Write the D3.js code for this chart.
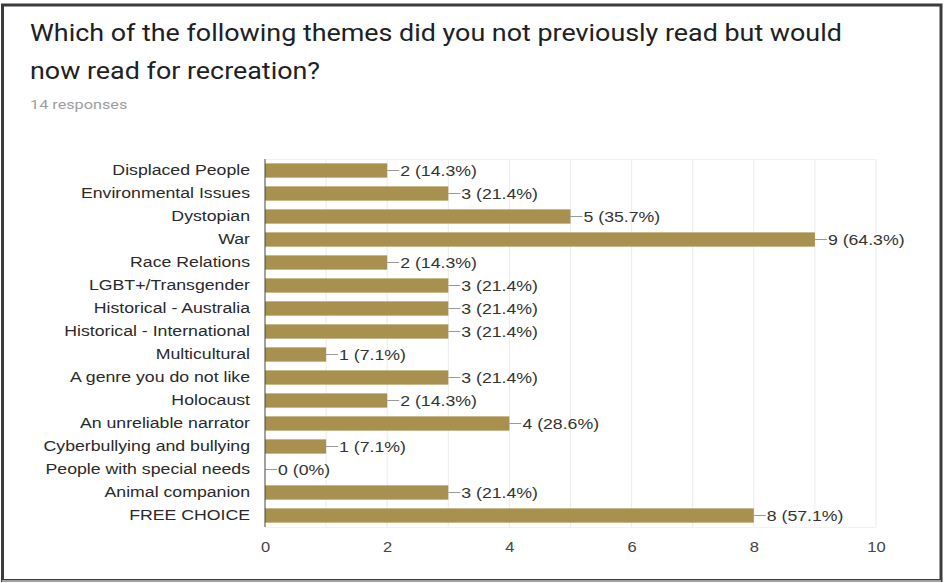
<!DOCTYPE html>
<html>
<head>
<meta charset="utf-8">
<script src="https://cdn.jsdelivr.net/npm/d3@7"></script>
<style>
  body { margin: 0; background: #fff; }
  svg { display: block; }
</style>
</head>
<body>
<svg id="chart" width="944" height="583"></svg>
<script>
// Survey themes, counts and their share of 14 responses
const aThemes = [
  'Displaced People', 'Environmental Issues', 'Dystopian', 'War', 'Race Relations',
  'LGBT+/Transgender', 'Historical - Australia', 'Historical - International',
  'Multicultural', 'A genre you do not like', 'Holocaust', 'An unreliable narrator',
  'Cyberbullying and bullying', 'People with special needs', 'Animal companion', 'FREE CHOICE'
];
const aCounts = [2, 3, 5, 9, 2, 3, 3, 3, 1, 3, 2, 4, 1, 0, 3, 8];
const aPercents = ['14.3%', '21.4%', '35.7%', '64.3%', '14.3%', '21.4%', '21.4%', '21.4%',
  '7.1%', '21.4%', '14.3%', '28.6%', '7.1%', '0%', '21.4%', '57.1%'];
const aTicks = [0, 2, 4, 6, 8, 10];
const aGrid = [1, 2, 3, 4, 5, 6, 7, 8, 9, 10];

const sBarColour = '#a8904f';
const sFont = 'Arial, "Liberation Sans", sans-serif';
const jPadding = { l: 265, r: 68, t: 159, b: 56 };
// the screenshot is stretched sideways, so text gets a horizontal scale
const fStretch = 1.18;

const oSvg = d3.select('#chart');

// Outer card frame
oSvg.append('rect')
  .attr('x', 2.5).attr('y', 5).attr('width', 938.5).attr('height', 575.5)
  .attr('fill', '#fff').attr('stroke', '#3c3c3c').attr('stroke-width', 3);
oSvg.append('line')
  .attr('x1', 2).attr('x2', 941).attr('y1', 581).attr('y2', 581)
  .attr('stroke', '#a0a0a0').attr('stroke-width', 2);

// Title and response count
const oTitle = oSvg.append('text')
  .attr('transform', 'translate(30,0) scale(1.12,1)')
  .attr('font-family', 'Roboto, sans-serif').attr('font-size', 24).attr('fill', '#202124');
oTitle.append('tspan').attr('x', 0).attr('y', 41)
  .text('Which of the following themes did you not previously read but would');
oTitle.append('tspan').attr('x', 0).attr('y', 79).text('now read for recreation?');
oSvg.append('text')
  .attr('transform', 'translate(30,109) scale(1.25,1)')
  .attr('font-family', 'Roboto, sans-serif').attr('font-size', 13).attr('fill', '#9e9e9e')
  .text('14 responses');

// Scales
const oX = d3.scaleLinear().domain([0, 10]).range([jPadding.l, 876]);
const oY = d3.scaleBand().domain(aThemes).range([jPadding.t, 527]).paddingInner(0.38).paddingOuter(0.19);

// Vertical gridlines
oSvg.append('g').selectAll('line').data(aGrid).enter().append('line')
  .attr('x1', d => oX(d)).attr('x2', d => oX(d))
  .attr('y1', jPadding.t).attr('y2', 527)
  .attr('stroke', '#ebebeb').attr('stroke-width', 1);
oSvg.append('line')
  .attr('x1', jPadding.l).attr('x2', 876).attr('y1', jPadding.t + 0.5).attr('y2', jPadding.t + 0.5)
  .attr('stroke', '#f2f2f2');
oSvg.append('line')
  .attr('x1', jPadding.l).attr('x2', 876).attr('y1', 527.5).attr('y2', 527.5)
  .attr('stroke', '#f2f2f2');

// Bars
oSvg.append('g').selectAll('rect').data(aCounts).enter().append('rect')
  .attr('x', oX(0))
  .attr('y', (d, i) => oY(aThemes[i]))
  .attr('width', d => oX(d) - oX(0))
  .attr('height', oY.bandwidth())
  .attr('fill', sBarColour);

// Value annotations with short leader lines
const oAnno = oSvg.append('g');
aCounts.forEach((d, i) => {
  const iCy = oY(aThemes[i]) + oY.bandwidth() / 2;
  oAnno.append('line')
    .attr('x1', oX(d)).attr('x2', oX(d) + 12).attr('y1', iCy).attr('y2', iCy)
    .attr('stroke', '#9a9a9a').attr('stroke-width', 1);
  oAnno.append('text')
    .attr('transform', `translate(${oX(d) + 13},${iCy}) scale(${fStretch},1)`)
    .attr('dy', '0.35em')
    .attr('font-family', sFont).attr('font-size', 15).attr('fill', '#333')
    .text(`${d} (${aPercents[i]})`);
});

// Category axis
const oYAxis = oSvg.append('g')
  .attr('transform', `translate(${jPadding.l},0)`)
  .call(d3.axisLeft(oY).tickSize(0).tickPadding(15));
oYAxis.select('.domain').attr('stroke', '#444').attr('d', `M0,${jPadding.t}V527`);
oYAxis.selectAll('text')
  .attr('x', -15 / fStretch)
  .attr('transform', `scale(${fStretch},1)`)
  .attr('font-family', sFont).attr('font-size', 15).attr('fill', '#2a2a2a');

// Value axis
const oXAxis = oSvg.append('g')
  .attr('transform', 'translate(0,527)')
  .call(d3.axisBottom(oX).tickValues(aTicks).tickSize(0).tickPadding(15));
oXAxis.select('.domain').remove();
oXAxis.selectAll('text')
  .attr('transform', `scale(${fStretch},1)`)
  .attr('font-family', sFont).attr('font-size', 14).attr('fill', '#444');
</script>
</body>
</html>
